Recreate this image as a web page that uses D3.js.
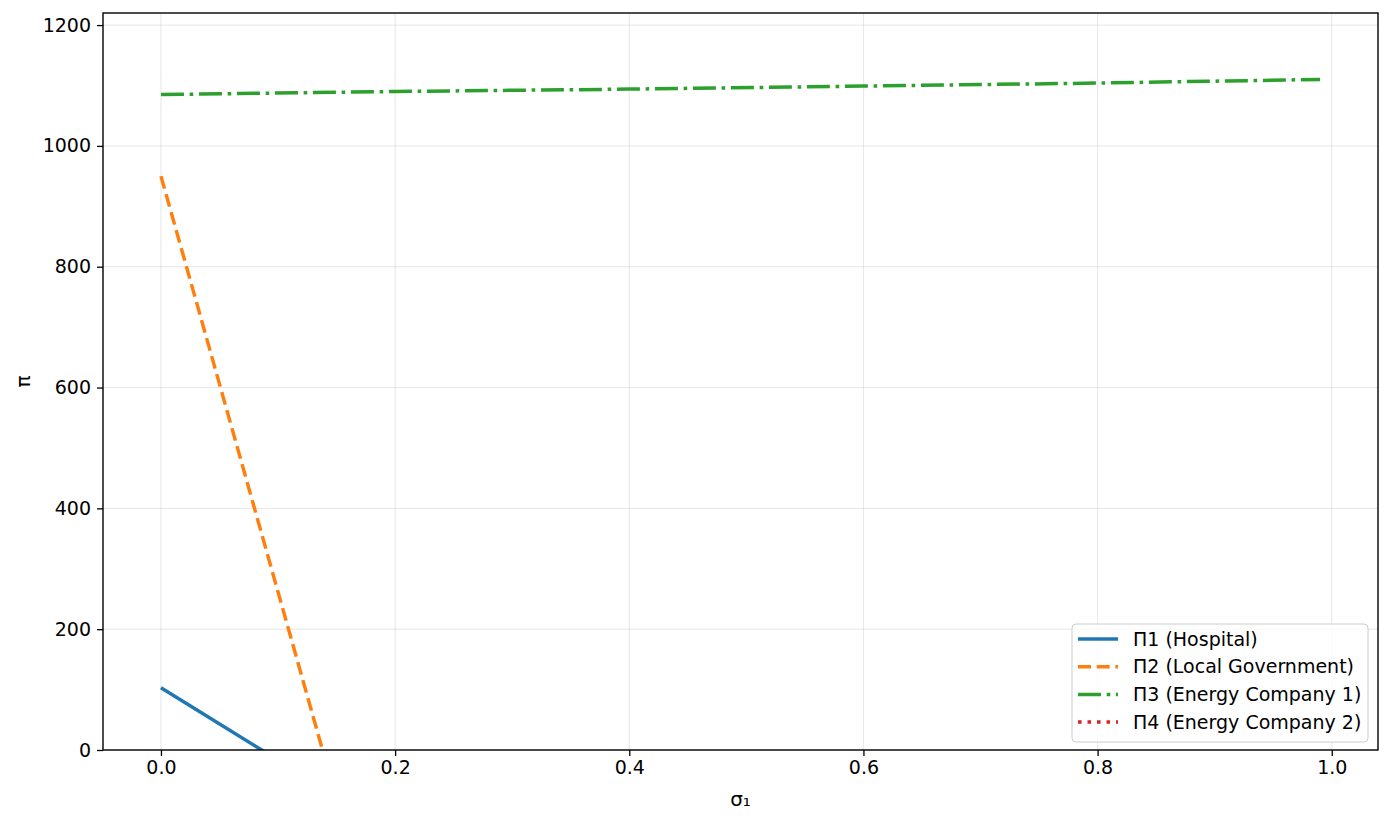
<!DOCTYPE html>
<html>
<head>
<meta charset="utf-8">
<style>
  body { margin: 0; background: #fff; }
  svg { font-family: "DejaVu Sans", sans-serif; }
  .grid line { stroke: #b0b0b0; stroke-opacity: 0.3; stroke-width: 1; }
  .tick text { font-size: 19px; fill: #000; }
</style>
</head>
<body>
<svg width="1400" height="820"></svg>
<script src="https://d3js.org/d3.v7.min.js"></script>
<script>
// values
var sigma = [0.0, 0.2, 0.4, 0.6, 0.8, 0.99];
var piHospital = [[0.0, 103], [0.086, 0], [0.2, -137]];
var piLocalGov = [[0.0, 950], [0.138, 0], [0.2, -428]];
var piEnergy1 = [1085, 1090, 1094, 1099, 1104, 1110];
var piEnergy2 = [[0.0, -40], [0.99, -300]];

var xTicks = [0.0, 0.2, 0.4, 0.6, 0.8, 1.0];
var yTicks = [0, 200, 400, 600, 800, 1000, 1200];

var series = [
  {name: "Π1 (Hospital)", color: "#1f77b4", dash: null, pts: piHospital},
  {name: "Π2 (Local Government)", color: "#ff7f0e", dash: "13,5.7", pts: piLocalGov},
  {name: "Π3 (Energy Company 1)", color: "#2ca02c", dash: "23,5.7,3.6,5.7",
    pts: sigma.map(function(s, i) { return [s, piEnergy1[i]]; })},
  {name: "Π4 (Energy Company 2)", color: "#d62728", dash: "3.6,5.9", pts: piEnergy2}
];

var svg = d3.select("svg"),
    margin = {top: 13, right: 22, bottom: 70, left: 103},
    width = 1400 - margin.left - margin.right,
    height = 820 - margin.top - margin.bottom,
    g = svg.append("g").attr("transform", "translate(" + margin.left + "," + margin.top + ")");

var x = d3.scaleLinear().domain([-0.0495, 1.0395]).range([0, width]);
var y = d3.scaleLinear().domain([0, 1220]).range([height, 0]);

// grid
g.append("g").attr("class", "grid")
  .selectAll("line").data(xTicks).enter().append("line")
  .attr("x1", function(d) { return x(d); }).attr("x2", function(d) { return x(d); })
  .attr("y1", 0).attr("y2", height);
g.append("g").attr("class", "grid")
  .selectAll("line").data(yTicks).enter().append("line")
  .attr("y1", function(d) { return y(d); }).attr("y2", function(d) { return y(d); })
  .attr("x1", 0).attr("x2", width);

svg.append("defs").append("clipPath").attr("id", "clip")
  .append("rect").attr("width", width).attr("height", height);

var line = d3.line()
  .x(function(d) { return x(d[0]); })
  .y(function(d) { return y(d[1]); });

var plot = g.append("g").attr("clip-path", "url(#clip)");
series.forEach(function(s) {
  plot.append("path")
    .datum(s.pts)
    .attr("fill", "none")
    .attr("stroke", s.color)
    .attr("stroke-width", 3.5)
    .attr("stroke-dasharray", s.dash)
    .attr("d", line);
});

// axes
var xAxis = g.append("g")
  .attr("transform", "translate(0," + height + ")")
  .call(d3.axisBottom(x).tickValues(xTicks).tickFormat(d3.format(".1f")).tickSizeOuter(0).tickSize(6).tickPadding(5));
var yAxis = g.append("g")
  .call(d3.axisLeft(y).tickValues(yTicks).tickFormat(d3.format("d")).tickSizeOuter(0).tickSize(6).tickPadding(6));
[xAxis, yAxis].forEach(function(a) {
  a.select(".domain").remove();
  a.selectAll(".tick line").attr("stroke", "#000").attr("stroke-width", 1.3);
  a.attr("font-family", null).attr("font-size", null);
});

g.append("rect")
  .attr("width", width).attr("height", height)
  .attr("fill", "none").attr("stroke", "#000").attr("stroke-width", 1.4);

// axis labels
svg.append("text")
  .attr("x", margin.left + width / 2).attr("y", 806)
  .attr("text-anchor", "middle").attr("font-size", 20)
  .text("σ₁");
svg.append("text")
  .attr("transform", "translate(30," + (margin.top + height / 2) + ") rotate(-90)")
  .attr("text-anchor", "middle").attr("font-size", 20)
  .text("π");

// legend
var lg = svg.append("g").attr("transform", "translate(1072,624)");
lg.append("rect")
  .attr("width", 296).attr("height", 118).attr("rx", 4)
  .attr("fill", "#fff").attr("fill-opacity", 0.8)
  .attr("stroke", "#ccc").attr("stroke-width", 1);
series.forEach(function(s, i) {
  var row = lg.append("g").attr("transform", "translate(0," + (15 + i * 27.7) + ")");
  row.append("line")
    .attr("x1", 6).attr("x2", 46)
    .attr("stroke", s.color).attr("stroke-width", 3.5)
    .attr("stroke-dasharray", s.dash);
  row.append("text")
    .attr("x", 61).attr("dy", "0.35em")
    .attr("font-size", 19)
    .text(s.name);
});
</script>
</body>
</html>
